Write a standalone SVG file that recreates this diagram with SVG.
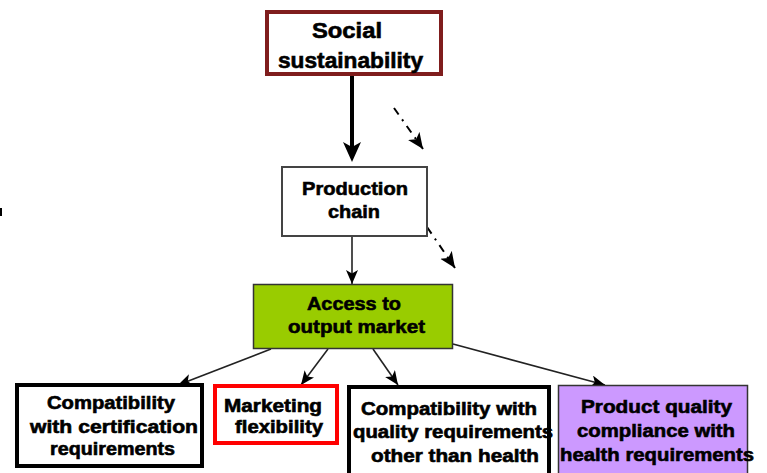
<svg xmlns="http://www.w3.org/2000/svg" width="767" height="473" viewBox="0 0 767 473">
<style>
text{font-family:"Liberation Sans",Arial,sans-serif;font-weight:bold;fill:#000;stroke:#000;stroke-width:0.6;text-anchor:middle}
.t22{font-size:22px}
.t19{font-size:19px}
.t18{font-size:18px}
.conn{stroke:#222;stroke-width:1.6;fill:none}
.dd{stroke:#000;stroke-width:2;fill:none;stroke-dasharray:8 6 2 6}
</style>
<defs>
<marker id="ah" markerUnits="userSpaceOnUse" markerWidth="16" markerHeight="14" refX="14" refY="6" orient="auto">
<path d="M0,0 L14,6 L0,12 L3.5,6 z" fill="#000"/>
</marker>
<marker id="ahDd" markerUnits="userSpaceOnUse" markerWidth="18" markerHeight="16" refX="16" refY="7" orient="auto">
<path d="M0,0 L16,7 L0,14 L4,7 z" fill="#000"/>
</marker>
<marker id="ahBig" markerUnits="userSpaceOnUse" markerWidth="22" markerHeight="20" refX="5" refY="9" orient="auto">
<path d="M0,0 L20,9 L0,18 L5,9 z" fill="#000"/>
</marker>
</defs>
<rect width="767" height="473" fill="#fff"/>
<rect x="0" y="208" width="2" height="8" fill="#000"/>
<g id="connectors">
<line x1="352" y1="76" x2="352" y2="147" stroke="#000" stroke-width="4" marker-end="url(#ahBig)"/>
<line class="dd" x1="394" y1="108" x2="423" y2="149" marker-end="url(#ahDd)"/>
<line class="conn" x1="352" y1="236" x2="352" y2="284" marker-end="url(#ah)"/>
<line class="dd" x1="427" y1="227" x2="455" y2="268" marker-end="url(#ahDd)"/>
<line class="conn" x1="271" y1="349" x2="178" y2="385" marker-end="url(#ah)"/>
<line class="conn" x1="328" y1="349" x2="301" y2="385" marker-end="url(#ah)"/>
<line class="conn" x1="373" y1="349" x2="398" y2="385" marker-end="url(#ah)"/>
<line class="conn" x1="453" y1="344" x2="605" y2="385" marker-end="url(#ah)"/>
</g>
<g id="social">
<rect x="267" y="12" width="174" height="62" fill="#fff" stroke="#7f1d1d" stroke-width="4"/>
<text class="t22" x="347" y="38" textLength="70" lengthAdjust="spacingAndGlyphs">Social</text>
<text class="t22" x="350.5" y="68" textLength="145" lengthAdjust="spacingAndGlyphs">sustainability</text>
</g>
<g id="production">
<rect x="282" y="167" width="145" height="69" fill="#fff" stroke="#444" stroke-width="2"/>
<text class="t19" x="355" y="195" textLength="106" lengthAdjust="spacingAndGlyphs">Production</text>
<text class="t19" x="354" y="218" textLength="52" lengthAdjust="spacingAndGlyphs">chain</text>
</g>
<g id="access">
<rect x="253.5" y="284.5" width="199" height="64" fill="#99cc00" stroke="#333" stroke-width="1.5"/>
<text class="t19" x="354" y="310" textLength="94" lengthAdjust="spacingAndGlyphs">Access to</text>
<text class="t19" x="356.5" y="333" textLength="137" lengthAdjust="spacingAndGlyphs">output market</text>
</g>
<g id="certification">
<rect x="17" y="385" width="185" height="81" fill="#fff" stroke="#000" stroke-width="4"/>
<text class="t18" x="111" y="409" textLength="128" lengthAdjust="spacingAndGlyphs">Compatibility</text>
<text class="t18" x="114" y="433" textLength="168" lengthAdjust="spacingAndGlyphs">with certification</text>
<text class="t18" x="112.5" y="455" textLength="125" lengthAdjust="spacingAndGlyphs">requirements</text>
</g>
<g id="marketing">
<rect x="215" y="386" width="122" height="57" fill="#fff" stroke="#ff0000" stroke-width="4"/>
<text class="t18" x="273" y="412" textLength="98" lengthAdjust="spacingAndGlyphs">Marketing</text>
<text class="t18" x="279" y="433" textLength="88" lengthAdjust="spacingAndGlyphs">flexibility</text>
</g>
<g id="quality">
<rect x="349" y="387" width="200" height="100" fill="#fff" stroke="#000" stroke-width="4"/>
<text class="t18" x="449" y="415" textLength="176" lengthAdjust="spacingAndGlyphs">Compatibility with</text>
<text class="t18" x="453" y="438" textLength="200" lengthAdjust="spacingAndGlyphs">quality requirements</text>
<text class="t18" x="455" y="462" textLength="168" lengthAdjust="spacingAndGlyphs">other than health</text>
</g>
<g id="health">
<rect x="558.5" y="385.5" width="189" height="100" fill="#cc99ff" stroke="#333" stroke-width="1.5"/>
<text class="t18" x="656.5" y="413" textLength="151" lengthAdjust="spacingAndGlyphs">Product quality</text>
<text class="t18" x="656" y="437" textLength="158" lengthAdjust="spacingAndGlyphs">compliance with</text>
<text class="t18" x="657" y="461" textLength="194" lengthAdjust="spacingAndGlyphs">health requirements</text>
</g>
</svg>
